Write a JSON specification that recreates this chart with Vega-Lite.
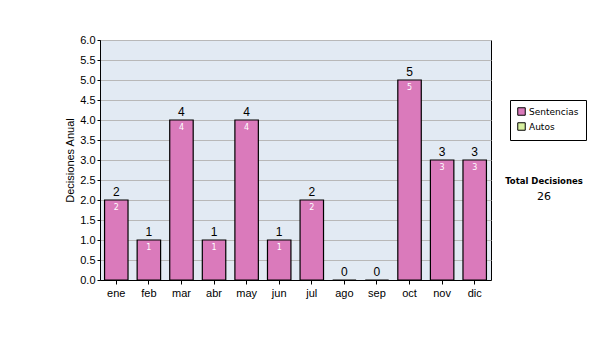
{
  "$schema": "https://vega.github.io/schema/vega-lite/v6.json",
  "autosize": {"type": "none"},
  "padding": {"left": 100, "top": 40, "right": 109, "bottom": 60},
  "width": 391,
  "height": 240,
  "background": "white",
  "title": {
    "text": "Total Decisiones",
    "subtitle": "26",
    "orient": "top",
    "anchor": "start",
    "frame": "group",
    "align": "center",
    "dx": 444,
    "dy": 172,
    "font": "DejaVu Sans",
    "fontSize": 8.5,
    "fontWeight": "bold",
    "color": "black",
    "subtitleFont": "DejaVu Sans",
    "subtitleFontSize": 11,
    "subtitleColor": "black",
    "subtitlePadding": 6
  },
  "data": {
    "values": [
      {"mes": "ene", "valor": 2, "serie": "Sentencias"},
      {"mes": "feb", "valor": 1, "serie": "Sentencias"},
      {"mes": "mar", "valor": 4, "serie": "Sentencias"},
      {"mes": "abr", "valor": 1, "serie": "Sentencias"},
      {"mes": "may", "valor": 4, "serie": "Sentencias"},
      {"mes": "jun", "valor": 1, "serie": "Sentencias"},
      {"mes": "jul", "valor": 2, "serie": "Sentencias"},
      {"mes": "ago", "valor": 0, "serie": "Sentencias"},
      {"mes": "sep", "valor": 0, "serie": "Sentencias"},
      {"mes": "oct", "valor": 5, "serie": "Sentencias"},
      {"mes": "nov", "valor": 3, "serie": "Sentencias"},
      {"mes": "dic", "valor": 3, "serie": "Sentencias"}
    ]
  },
  "encoding": {
    "x": {
      "field": "mes",
      "type": "nominal",
      "sort": null,
      "scale": {"paddingInner": 0.28, "paddingOuter": 0.14},
      "axis": {
        "title": null,
        "labelAngle": 0,
        "labelFont": "Liberation Sans",
        "labelFontSize": 11,
        "labelColor": "black",
        "labelPadding": 3,
        "domainColor": "black",
        "tickColor": "black",
        "tickSize": 4
      }
    },
    "y": {
      "field": "valor",
      "type": "quantitative",
      "scale": {"domain": [0, 6], "nice": false},
      "axis": {
        "title": "Decisiones Anual",
        "titleFont": "Liberation Sans",
        "titleFontSize": 11,
        "titleFontWeight": "normal",
        "titleColor": "black",
        "titlePadding": 4,
        "values": [0, 0.5, 1, 1.5, 2, 2.5, 3, 3.5, 4, 4.5, 5, 5.5, 6],
        "format": ".1f",
        "labelFont": "Liberation Sans",
        "labelFontSize": 11,
        "labelColor": "black",
        "labelPadding": 2,
        "domainColor": "black",
        "tickColor": "black",
        "tickSize": 3,
        "grid": true,
        "gridColor": "#b8b8b8",
        "gridWidth": 1
      }
    }
  },
  "layer": [
    {
      "mark": {"type": "bar", "stroke": "black", "strokeWidth": 1.2},
      "encoding": {
        "color": {
          "field": "serie",
          "type": "nominal",
          "scale": {"domain": ["Sentencias", "Autos"], "range": ["#da7abb", "#d8f0a0"]},
          "legend": {
            "title": null,
            "orient": "none",
            "legendX": 410,
            "legendY": 60,
            "direction": "vertical",
            "padding": 7,
            "strokeColor": "black",
            "fillColor": "white",
            "symbolType": "square",
            "symbolSize": 56,
            "symbolStrokeColor": "black",
            "symbolStrokeWidth": 1,
            "labelFont": "DejaVu Sans",
            "labelFontSize": 9,
            "labelColor": "black",
            "labelOffset": 3,
            "rowPadding": 2
          }
        }
      }
    },
    {
      "mark": {"type": "text", "baseline": "bottom", "dy": -1, "font": "Liberation Sans", "fontSize": 12, "color": "black"},
      "encoding": {"text": {"field": "valor", "type": "quantitative"}}
    },
    {
      "transform": [{"filter": "datum.valor > 0"}],
      "mark": {"type": "text", "baseline": "top", "dy": 4, "font": "DejaVu Sans", "fontSize": 8, "color": "white"},
      "encoding": {"text": {"field": "valor", "type": "quantitative"}}
    }
  ],
  "config": {
    "view": {"fill": "#e2eaf3", "stroke": "black", "strokeWidth": 1}
  }
}
